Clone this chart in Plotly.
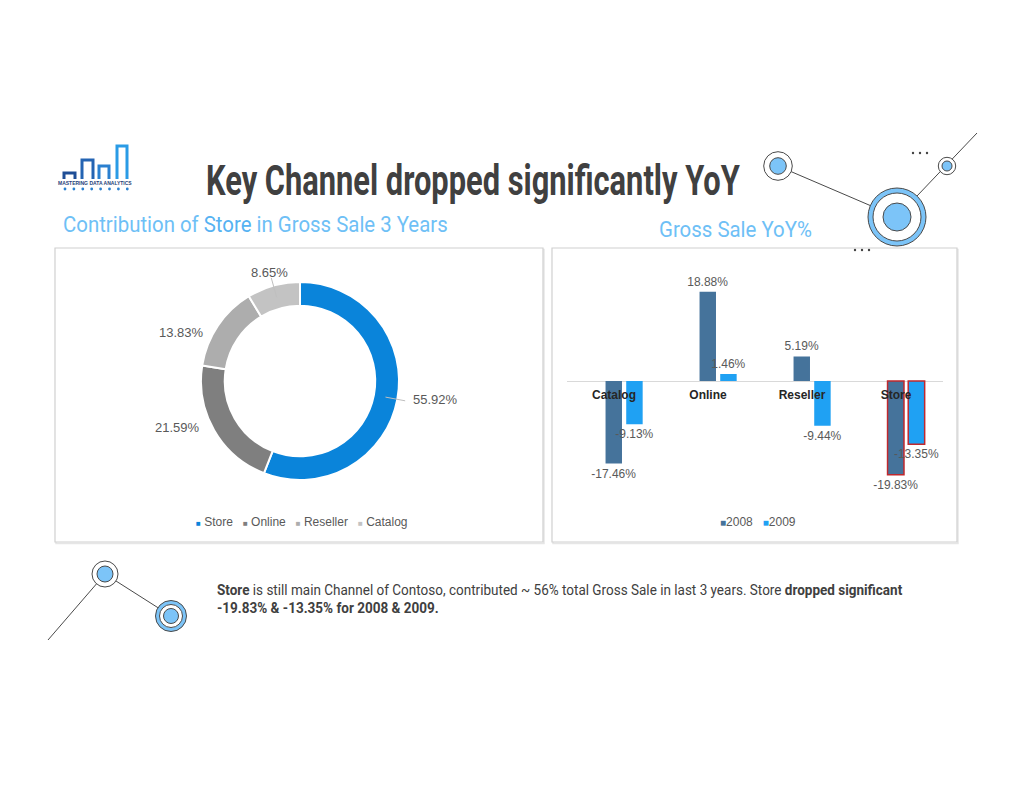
import math
import json
import plotly.graph_objects as go

# ---------------- data ----------------
CHANNELS = ["Store", "Online", "Reseller", "Catalog"]
SHARE = [55.92, 21.59, 13.83, 8.65]

CATEGORIES = ["Catalog", "Online", "Reseller", "Store"]
YOY_2008 = [-17.46, 18.88, 5.19, -19.83]
YOY_2009 = [-9.13, 1.46, -9.44, -13.35]
SERIES_NAMES = ["2008", "2009"]

TITLE = "Key Channel dropped significantly YoY"
LEFT_SUB = "Contribution of <span style='color:#55b2f2'>Store</span> in Gross Sale 3 Years"
RIGHT_SUB = "Gross Sale YoY%"
BODY_LINE1 = ("<b>Store</b> is still main Channel of Contoso, contributed ~ 56% total Gross Sale in last 3 years. "
              "Store <b>dropped significant</b>")
BODY_LINE2 = "<b>-19.83% &amp; -13.35% for 2008 &amp; 2009.</b>"

# ---------------- styles ----------------
W, H = 1024, 791
PIE_COLORS = ["#0A84DA", "#7F7F7F", "#ADADAD", "#C3C3C3"]
BAR_COLORS = ["#45739B", "#1FA1F3"]
HIGHLIGHT = "Store"
LEADER = ["Store", "Catalog"]
GRAY_TXT = "#595959"
COND = "Roboto, Liberation Sans, sans-serif"
ARIAL = "Liberation Sans, Arial, sans-serif"
BLUE_DECO = "#7CC4F8"
LINE_DECO = "#4a4a4a"


def px(x):
    return x / W


def py(y):
    return 1 - y / H


fig = go.Figure()

# ---------------- donut ----------------
cx, cy, R = 300, 381, 99
HOLE = 0.76
fig.add_trace(go.Pie(
    labels=CHANNELS, values=SHARE, sort=False, direction="clockwise", rotation=0,
    hole=HOLE, textinfo="none", hoverinfo="label+percent", showlegend=False,
    marker=dict(colors=PIE_COLORS, line=dict(color="white", width=2)),
    domain=dict(x=[px(cx - R), px(cx + R)], y=[py(cy + R), py(cy - R)]),
))

annotations = []
shapes = []
fit_width = {}  # annotation index -> rendered text width (px)

total = sum(SHARE)
cum = 0.0
for name, v in zip(CHANNELS, SHARE):
    mid = (cum + v / 2) / total * 2 * math.pi
    cum += v
    dx, dy = math.sin(mid), -math.cos(mid)
    rl = R + 14
    side = abs(dx) > 0.5
    lx = cx + rl * dx
    ly = cy + rl * dy * (0.8 if side else 1.0) + (2 if side else 0)
    xa = "left" if dx > 0.5 else ("right" if dx < -0.5 else "center")
    annotations.append(dict(
        x=px(lx), y=py(ly), xref="paper", yref="paper", text=f"{v:.2f}%",
        showarrow=False, xanchor=xa, yanchor="middle",
        font=dict(family=ARIAL, size=13, color=GRAY_TXT)))
    if name in LEADER:
        r0, r1 = R - 12, R + 8
        shapes.append(dict(type="line", xref="paper", yref="paper",
                           x0=px(cx + r0 * dx), y0=py(cy + r0 * dy),
                           x1=px(cx + r1 * dx), y1=py(cy + r1 * dy),
                           line=dict(color="#BFBFBF", width=1), layer="above"))

# donut legend
leg = "\u00a0\u00a0\u00a0".join(
    f"<span style='color:{c};font-size:8px'>■</span>\u00a0{n}" for n, c in zip(CHANNELS, PIE_COLORS))
annotations.append(dict(x=px(302), y=py(522), xref="paper", yref="paper", text=leg,
                        showarrow=False, xanchor="center", yanchor="middle",
                        font=dict(family=ARIAL, size=12, color=GRAY_TXT)))

# ---------------- bars ----------------
for i, (nm, vals, col) in enumerate(zip(SERIES_NAMES, [YOY_2008, YOY_2009], BAR_COLORS)):
    fig.add_trace(go.Bar(
        x=CATEGORIES, y=vals, name=nm, xaxis="x", yaxis="y",
        marker=dict(color=col,
                    line=dict(color=["#C0282D" if c == HIGHLIGHT else col for c in CATEGORIES],
                              width=[1.5 if c == HIGHLIGHT else 0 for c in CATEGORIES])),
        width=0.175, offset=[-0.09, 0.13][i],
        text=[f"{v:.2f}%" for v in vals], textposition="outside", constraintext="none",
        textfont=dict(family=ARIAL, size=12, color=GRAY_TXT),
        cliponaxis=False, showlegend=False,
    ))

bar_leg = "\u00a0\u00a0\u00a0".join(
    f"<span style='color:{c};font-size:10px'>■</span>{n}" for n, c in zip(SERIES_NAMES, BAR_COLORS))
annotations.append(dict(x=px(758), y=py(522), xref="paper", yref="paper", text=bar_leg,
                        showarrow=False, xanchor="center", yanchor="middle",
                        font=dict(family=ARIAL, size=12, color=GRAY_TXT)))

Y0_PX = 381
SCALE = 4.73  # px per %
YR = 25
fig.update_layout(
    barmode="overlay",
    xaxis=dict(domain=[px(567), px(943)], type="category", range=[-0.5, 3.5],
               anchor="free", position=py(Y0_PX), showline=False, ticks="",
               showgrid=False, zeroline=False, ticklabelstandoff=5,
               tickfont=dict(family=ARIAL, size=12, color="#262626", weight="bold")),
    yaxis=dict(domain=[py(Y0_PX + YR * SCALE), py(Y0_PX - YR * SCALE)], range=[-YR, YR],
               showticklabels=False, showgrid=False, zeroline=True,
               zerolinecolor="#D9D9D9", zerolinewidth=1),
)

# ---------------- panels ----------------
for (x0, y0, x1, y1) in [(55, 248, 543, 542), (552, 248, 957, 542)]:
    shapes.append(dict(type="rect", xref="paper", yref="paper",
                       x0=px(x0 + 1), y0=py(y1 + 1.5), x1=px(x1 + 1), y1=py(y0 + 1.5),
                       line=dict(color="#E6E6E6", width=1.5), layer="below"))
    shapes.append(dict(type="rect", xref="paper", yref="paper",
                       x0=px(x0), y0=py(y1), x1=px(x1), y1=py(y0),
                       line=dict(color="#D0D0D0", width=1.2), fillcolor="white", layer="below"))


# ---------------- decorations ----------------
def circ(x, y, r, fill, lw=1):
    shapes.append(dict(type="circle", xref="paper", yref="paper",
                       x0=px(x - r), x1=px(x + r), y0=py(y + r), y1=py(y - r),
                       fillcolor=fill, line=dict(color=LINE_DECO, width=lw), layer="above"))


def seg(x0, y0, x1, y1, lw=1):
    shapes.append(dict(type="line", xref="paper", yref="paper",
                       x0=px(x0), y0=py(y0), x1=px(x1), y1=py(y1),
                       line=dict(color=LINE_DECO, width=lw), layer="above"))


def dots(x, y, n=3, step=7, r=1.2, color="#444444"):
    for k in range(n):
        shapes.append(dict(type="circle", xref="paper", yref="paper",
                           x0=px(x + k * step - r), x1=px(x + k * step + r),
                           y0=py(y + r), y1=py(y - r), fillcolor=color,
                           line=dict(width=0), layer="above"))


# top right
seg(778, 166, 897, 217)
seg(897, 217, 977, 133)
circ(778, 166, 14.3, "white")
circ(778, 166, 8.3, BLUE_DECO)
circ(897, 217, 29, BLUE_DECO)
circ(897, 217, 24, "white")
circ(897, 217, 14, BLUE_DECO)
circ(947, 166, 8.7, "white")
circ(947, 166, 5, BLUE_DECO)
dots(913, 153)
dots(855, 250)

# bottom left
seg(48, 640, 105, 574)
seg(105, 574, 171, 616)
circ(105, 574, 13, "white")
circ(105, 574, 8, BLUE_DECO)
circ(171, 616, 15.5, BLUE_DECO)
circ(171, 616, 11.5, "white")
circ(171, 616, 7.5, BLUE_DECO)

# logo
LOGO_BARS = [(64, 75, 173, "#1F4E96"), (82, 93, 160, "#2464B3"), (99, 109, 166, "#2A80D0"),
             (117, 127, 146, "#2A9BE6")]
for (a, b, t, c) in LOGO_BARS:
    shapes.append(dict(type="path", xref="paper", yref="paper",
                       path=f"M {px(a)} {py(179)} L {px(a)} {py(t)} L {px(b)} {py(t)} L {px(b)} {py(179)}",
                       line=dict(color=c, width=3)))
dots(65, 189, n=8, step=8.9, r=1.4, color="#2A80D0")
annotations.append(dict(x=px(94.5), y=py(183.5), xref="paper", yref="paper",
                        text="<b>MASTERING DATA ANALYTICS</b>", showarrow=False,
                        xanchor="center", yanchor="middle",
                        font=dict(family=ARIAL, size=5, color="#1F3F7A")))


# ---------------- texts (condensed: width fitted in the browser) ----------------
def cond_text(text, x, y, size, color, width):
    fit_width[len(annotations)] = [x, width]
    annotations.append(dict(x=px(x), y=py(y), xref="paper", yref="paper", text=text,
                            showarrow=False, xanchor="left", yanchor="middle", align="left",
                            font=dict(family=COND, size=size, color=color)))


cond_text(f"<b>{TITLE}</b>", 204, 181, 42, "#404040", 534)
cond_text(LEFT_SUB, 61, 225, 22, "#6EC0F6", 385)
cond_text(RIGHT_SUB, 657, 229, 22, "#6EC0F6", 153)
cond_text(BODY_LINE1, 215, 590, 14, "#404040", 686)
cond_text(BODY_LINE2, 215, 608, 14, "#404040", 222)

fig.update_layout(
    width=W, height=H, margin=dict(l=0, r=0, t=0, b=0),
    paper_bgcolor="white", plot_bgcolor="rgba(0,0,0,0)",
    shapes=shapes, annotations=annotations, showlegend=False,
)

# Narrow the condensed headings horizontally (the condensed web font is not available offline).
POST = """
var gd = document.getElementById('{plot_id}');
var fit = %s;
function applyFit() {
  Object.keys(fit).forEach(function (k) {
    var g = gd.querySelector('g.annotation[data-index="' + k + '"]');
    if (!g) return;
    var t = g.querySelector('text.annotation-text');
    var bb = t.getBBox();
    if (!bb.width) return;
    var s = fit[k][1] / bb.width;
    var x0 = bb.x;
    t.setAttribute('transform', 'matrix(' + s + ',0,0,1,' + (x0 * (1 - s)) + ',0)');
    var r = g.querySelector('rect.bg');
    if (r) { r.setAttribute('transform', 'matrix(' + s + ',0,0,1,' + (x0 * (1 - s)) + ',0)'); }
  });
}
applyFit();
gd.on('plotly_afterplot', applyFit);
""" % json.dumps({str(k): v for k, v in fit_width.items()})

fig.write_html("out.html", config={"displayModeBar": False}, post_script=POST)
